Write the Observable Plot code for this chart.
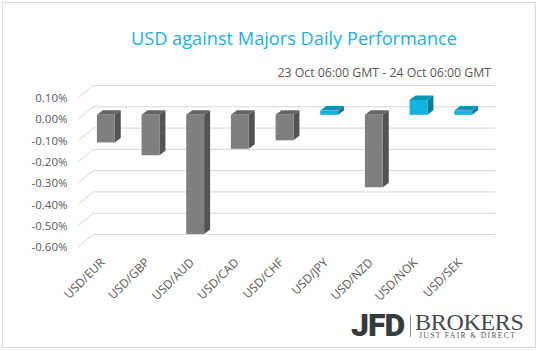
<!DOCTYPE html>
<html>
<head>
<meta charset="utf-8">
<script src="https://cdn.jsdelivr.net/npm/d3@7"></script>
<script src="https://cdn.jsdelivr.net/npm/@observablehq/plot@0.6"></script>
<style>
  html, body { margin: 0; padding: 0; background: #fff; }
  #wrap { position: relative; width: 538px; height: 351px; overflow: hidden; font-family: "Open Sans", sans-serif; }
  #wrap svg { position: absolute; left: 0; top: 0; }
  .border { position: absolute; left: 2px; top: 2px; width: 532px; height: 344px; border: 1px solid #d9d9d9; }
  .title { position: absolute; left: 0; width: 588px; top: 26px; text-align: center; font-size: 18.2px; color: #1cb0e4; white-space: nowrap; }
  .subtitle { position: absolute; right: 47px; top: 64px; font-size: 12.3px; color: #595959; white-space: nowrap; }
  .jfd { position: absolute; left: 351px; top: 305px; font-family: Roboto, sans-serif; font-weight: 900; font-size: 32px; color: #363b40; letter-spacing: -1px; line-height: 40px; }
  .sep { position: absolute; left: 410px; top: 315px; width: 1px; height: 22px; background: #8a8a8a; }
  .brokers { position: absolute; left: 415px; top: 312px; font-family: "Liberation Serif", serif; font-size: 24px; color: #444a50; line-height: 20px; letter-spacing: -0.3px; }
  .tag { position: absolute; left: 419px; top: 332px; font-family: "Liberation Serif", serif; font-size: 7.5px; color: #555; letter-spacing: 1.4px; line-height: 7px; white-space: nowrap; }
</style>
</head>
<body>
<div id="wrap">
  <div class="border"></div>
  <div class="title">USD against Majors Daily Performance</div>
  <div class="subtitle">23 Oct 06:00 GMT - 24 Oct 06:00 GMT</div>
  <div class="jfd">JFD</div>
  <div class="sep"></div>
  <div class="brokers">BROKERS</div>
  <div class="tag">JUST FAIR &amp; DIRECT</div>
</div>
<script>
// Data
const pairs = ["USD/EUR", "USD/GBP", "USD/AUD", "USD/CAD", "USD/CHF", "USD/JPY", "USD/NZD", "USD/NOK", "USD/SEK"];
const changes = [-0.13, -0.19, -0.56, -0.16, -0.12, 0.02, -0.34, 0.07, 0.02]; // percent
const yTicks = [0.1, 0, -0.1, -0.2, -0.3, -0.4, -0.5, -0.6];

// Styling / layout
const W = 538, H = 351;
const ML = 83, MR = 53, MT = 85, MB = 117;
const PX = (W - ML - MR) / 9;          // px per category
const PY = (H - MT - MB) / 0.7;        // px per 1 percent
const depthX = 6 / PX, depthY = 4.5 / PY;
const halfW = 0.2;
const colors = {
  neg: {front: "#7f7f7f", side: "#535353", top: "#656565"},
  pos: {front: "#12b3dc", side: "#0b7f98", top: "#0996b6"}
};

// build polygon faces from the data
const faces = [];
changes.forEach((v, i) => {
  const c = v < 0 ? colors.neg : colors.pos;
  const top = Math.max(v, 0), bot = Math.min(v, 0);
  const x0 = i - halfW, x1 = i + halfW;
  const add = (name, pts, fill) => pts.forEach(([x, y]) => faces.push({id: pairs[i] + name, x, y, fill, order: name}));
  add("side", [[x1, top], [x1 + depthX, top + depthY], [x1 + depthX, bot + depthY], [x1, bot]], c.side);
  add("top", [[x0, top], [x0 + depthX, top + depthY], [x1 + depthX, top + depthY], [x1, top]], c.top);
  add("front", [[x0, top], [x1, top], [x1, bot], [x0, bot]], c.front);
});
const sideF = faces.filter(d => d.order === "side");
const topF = faces.filter(d => d.order === "top");
const frontF = faces.filter(d => d.order === "front");

const fmt = d => d.toFixed(2) + "%";
const barDy = 8;

const chart = Plot.plot({
  width: W, height: H,
  marginLeft: ML, marginRight: MR, marginTop: MT, marginBottom: MB,
  style: {fontFamily: "Open Sans, sans-serif", background: "transparent"},
  x: {type: "linear", domain: [-0.5, 8.5], range: [ML, W - MR], axis: null},
  y: {domain: [-0.6, 0.1], range: [H - MB, MT], axis: null},
  marks: [
    Plot.ruleY(yTicks, {stroke: "#d9d9d9", strokeWidth: 1, dx: 10}),
    Plot.link(yTicks, {x1: () => -0.5 - 5 / PX, y1: d => d - 12 / PY, x2: () => -0.5 + 10 / PX, y2: d => d, stroke: "#d9d9d9", strokeWidth: 1}),
    Plot.text(yTicks, {x: () => -0.5, y: d => d, text: fmt, textAnchor: "end", dx: -16, dy: 13, fill: "#595959", fontSize: 11.5}),
    Plot.line(sideF, {x: "x", y: "y", z: "id", fill: "fill", stroke: "none", curve: "linear-closed", dy: barDy}),
    Plot.line(topF, {x: "x", y: "y", z: "id", fill: "fill", stroke: "none", curve: "linear-closed", dy: barDy}),
    Plot.line(frontF, {x: "x", y: "y", z: "id", fill: "fill", stroke: "none", curve: "linear-closed", dy: barDy}),
    Plot.text(pairs, {x: (d, i) => i, y: () => -0.6, text: d => d, rotate: -45, textAnchor: "end", dx: -3, dy: 26, fill: "#595959", fontSize: 12})
  ]
});
document.getElementById("wrap").prepend(chart);
</script>
</body>
</html>
